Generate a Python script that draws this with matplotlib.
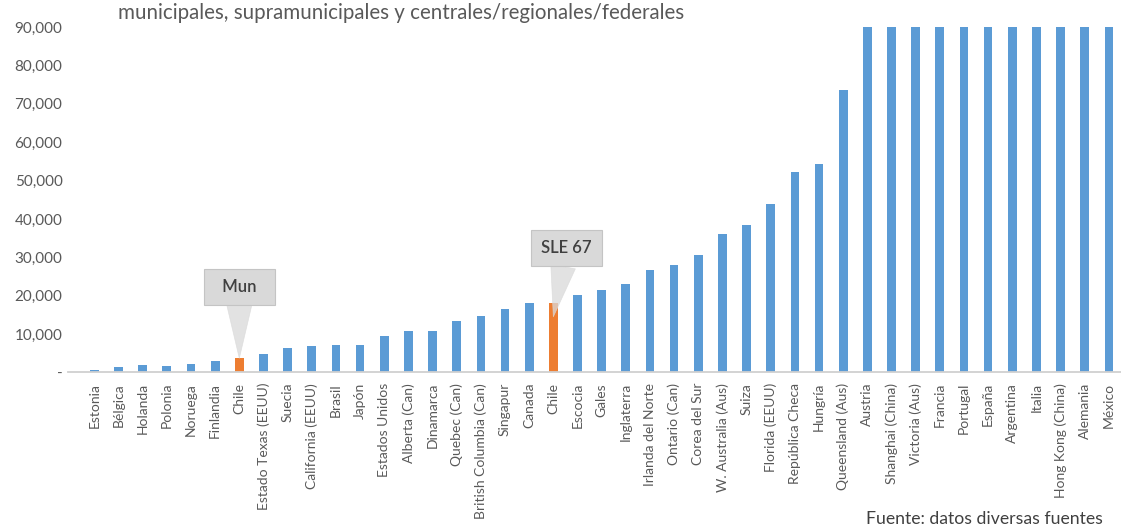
import matplotlib
matplotlib.use("Agg")
import matplotlib.pyplot as plt
from matplotlib.ticker import FuncFormatter

plt.rcParams['font.family'] = ['Lato', 'DejaVu Sans']

# Data
paises = ["Estonia", "Bélgica", "Holanda", "Polonia", "Noruega", "Finlandia", "Chile",
          "Estado Texas (EEUU)", "Suecia", "California (EEUU)", "Brasil", "Japón",
          "Estados Unidos", "Alberta (Can)", "Dinamarca", "Quebec (Can)",
          "British Columbia (Can)", "Singapur", "Canada", "Chile", "Escocia", "Gales",
          "Inglaterra", "Irlanda del Norte", "Ontario (Can)", "Corea del Sur",
          "W. Australia (Aus)", "Suiza", "Florida (EEUU)", "República Checa", "Hungría",
          "Queensland (Aus)", "Austria", "Shanghai (China)", "Victoria (Aus)", "Francia",
          "Portugal", "España", "Argentina", "Italia", "Hong Kong (China)", "Alemania",
          "México"]
valores = [700, 1400, 1900, 1800, 2300, 3000, 3700,
           4900, 6400, 6800, 7200, 7200,
           9400, 10900, 10900, 13500,
           14800, 16500, 18200, 18000, 20200, 21500,
           23000, 26700, 28000, 30600,
           36200, 38500, 44000, 52100, 54300,
           73500, 90000, 90000, 90000, 90000,
           90000, 90000, 90000, 90000, 90000, 90000,
           90000]
destacados = [6, 19]  # the two Chile bars
callouts = {6: ("  Mun  ", 22300, 0.0, 3700), 19: ("SLE 67", 32400, 0.55, 14500)}

azul = "#5B9BD5"
naranja = "#ED7D31"
gris_txt = "#595959"

colores = [naranja if i in destacados else azul for i in range(len(paises))]

fig = plt.figure(figsize=(11.21, 5.27), dpi=100)
ax = fig.add_axes([0.0607, 0.2932, 0.9393, 0.6556])

x = list(range(len(paises)))
ax.bar(x, valores, width=0.36, color=colores, zorder=2)

ax.set_xlim(-1.09, 42.5)
ax.set_ylim(0, 90000)
ax.set_yticks(range(0, 90001, 10000))
ax.yaxis.set_major_formatter(FuncFormatter(lambda v, p: "-" if v == 0 else f"{v:,.0f}"))
ax.set_xticks(x)
ax.set_xticklabels(paises, rotation=90, fontsize=10, color=gris_txt, va="top")
ax.tick_params(axis="y", length=0, pad=4, labelsize=11, labelcolor=gris_txt)
ax.tick_params(axis="x", length=0, pad=7.5)

for s in ["top", "right", "left"]:
    ax.spines[s].set_visible(False)
ax.spines["bottom"].set_color("#D0D0D0")
ax.spines["bottom"].set_linewidth(1.3)
ax.spines["bottom"].set_zorder(3)

for i, (txt, ytxt, dx, ytip) in callouts.items():
    ax.annotate(txt, xy=(i, ytip), xytext=(i + dx, ytxt),
                ha="center", va="center", fontsize=12, color="#404040",
                fontweight="semibold", zorder=4,
                bbox=dict(boxstyle="square,pad=0.6", fc="#D9D9D9", ec="#C4C4C4", lw=0.8),
                arrowprops=dict(arrowstyle="wedge,tail_width=1.5,shrink_factor=0.5",
                                fc="#D9D9D9", ec="#D9D9D9", alpha=0.75, lw=0.5,
                                shrinkA=0, shrinkB=0))

fig.text(118 / 1121, 1 - 13 / 527,
         "municipales, supramunicipales y centrales/regionales/federales",
         fontsize=14.8, color=gris_txt, ha="left", va="center")
fig.text(866 / 1121, 1 - 511 / 527, "Fuente: datos diversas fuentes",
         fontsize=12.7, color="#404040", ha="left", va="top")

fig.savefig("out.png", dpi=100)
